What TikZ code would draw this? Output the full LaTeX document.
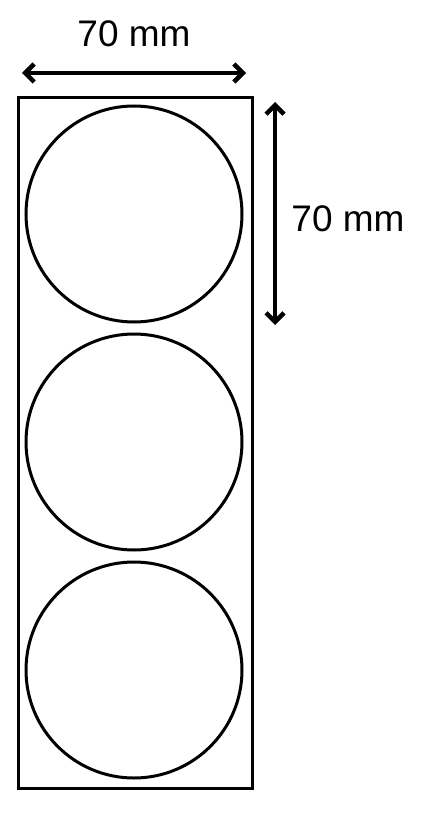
\documentclass[tikz,border=0pt]{standalone}
\usepackage{fontspec}
\setmainfont{Liberation Sans}
\usetikzlibrary{arrows.meta}

\tikzset{
	dimline/.style={line width=4.5pt, {Straight Barb[length=9pt,width=18pt]}-{Straight Barb[length=9pt,width=18pt]}},
	dimtext/.style={font=\fontsize{37}{40}\selectfont, inner sep=0pt},
	disc/.style={draw, circle, line width=3pt, minimum size=216pt, inner sep=0pt}
}

\begin{document}
\begin{tikzpicture}[x=1pt,y=-1pt]
	\useasboundingbox (0,0) rectangle (424,813);

	\node[draw, line width=3pt, minimum width=234pt, minimum height=691pt, inner sep=0pt, anchor=north west] (sheet) at (17,96) {};
	\node[disc] (top) at (134,214) {};
	\node[disc] (mid) at (134,442) {};
	\node[disc] (bot) at (134,670) {};

	\coordinate (wl) at (22,73);
	\coordinate (wr) at (246,73);
	\draw[dimline] (wl) -- (wr);
	\node[dimtext] (wlabel) at (134,34) {70 mm};

	\coordinate (ht) at (275,102);
	\coordinate (hb) at (275,325);
	\draw[dimline] (ht) -- (hb);
	\node[dimtext] (hlabel) at (348,219) {70 mm};
\end{tikzpicture}
\end{document}
